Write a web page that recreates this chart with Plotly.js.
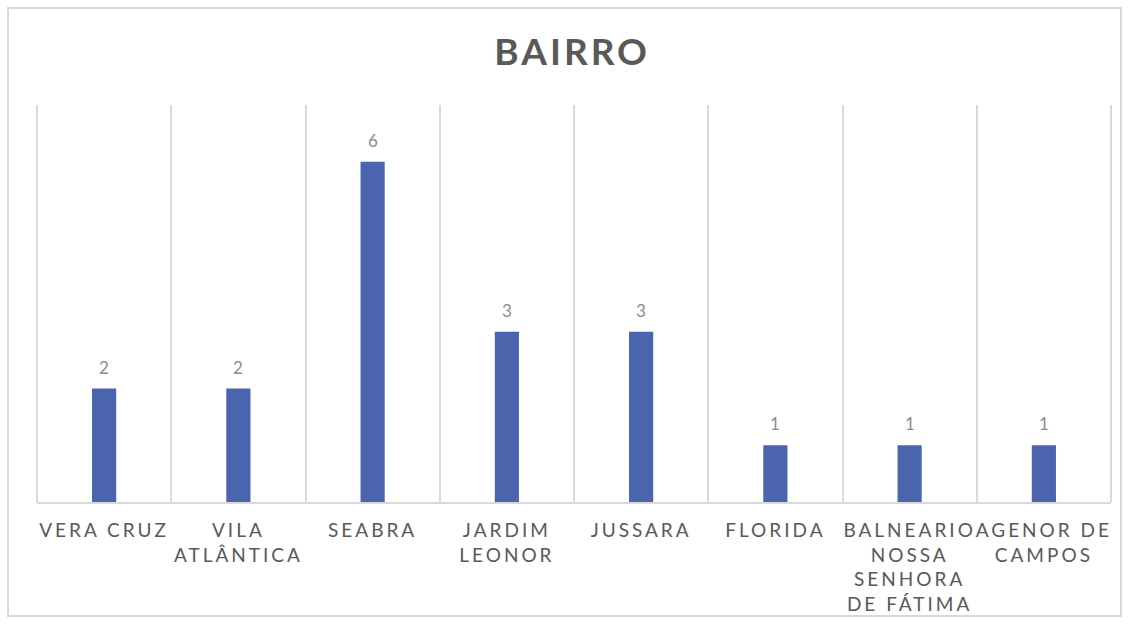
<!DOCTYPE html>
<html>
<head>
<meta charset="utf-8">
<script src="https://cdn.plot.ly/plotly-3.0.1.min.js"></script>
<style>
html, body { margin: 0; padding: 0; background: #fff; }
#frame { position: absolute; left: 7px; top: 7px; width: 1111px; height: 606px; border: 2px solid #d9d9d9; box-sizing: content-box; }
#chart { position: absolute; left: 0; top: 0; width: 1133px; height: 626px; }
.xtick text, .xtick tspan { letter-spacing: 3px; }
.gtitle, .gtitle tspan { letter-spacing: 3px; }
</style>
</head>
<body>
<div id="frame"></div>
<div id="chart"></div>
<script>
const categories = ["Vera Cruz", "Vila Atlântica", "Seabra", "Jardim Leonor", "Jussara", "Florida", "Balneario Nossa Senhora de Fátima", "Agenor de Campos"];
const tickLabels = ["VERA CRUZ", "VILA<br>ATLÂNTICA", "SEABRA", "JARDIM<br>LEONOR", "JUSSARA", "FLORIDA", "BALNEARIO<br>NOSSA<br>SENHORA<br>DE FÁTIMA", "AGENOR DE<br>CAMPOS"];
const values = [2, 2, 6, 3, 3, 1, 1, 1];

const trace = {
  type: 'bar',
  x: categories,
  y: values,
  marker: { color: '#4a65ae' },
  width: 0.18,
  hoverinfo: 'x+y'
};

const labelAnnotations = categories.map((c, i) => ({
  x: c, y: values[i], xref: 'x', yref: 'y',
  text: String(values[i]),
  showarrow: false,
  yanchor: 'bottom',
  yshift: 9,
  font: { family: 'Lato, "Open Sans", sans-serif', size: 17, color: '#8c8c8c' }
}));

const layout = {
  width: 1133,
  height: 626,
  paper_bgcolor: 'rgba(0,0,0,0)',
  plot_bgcolor: 'rgba(0,0,0,0)',
  margin: { l: 37, r: 22, t: 105, b: 124 },
  title: {
    text: '<b>BAIRRO</b>',
    font: { family: 'Lato, "Open Sans", sans-serif', size: 37, color: '#595959' },
    x: 0.505, xanchor: 'center',
    y: 1 - 52 / 626, yanchor: 'middle', yref: 'container'
  },
  xaxis: {
    type: 'category',
    tickmode: 'array',
    tickvals: categories,
    ticktext: tickLabels,
    tickson: 'boundaries',
    ticks: '',
    ticklabelstandoff: 10,
    showgrid: true,
    gridcolor: '#d9d9d9',
    gridwidth: 2,
    showline: true,
    linecolor: '#d9d9d9',
    linewidth: 2,
    tickangle: 0,
    tickfont: { family: 'Lato, "Open Sans", sans-serif', size: 19, color: '#595959' },
    range: [-0.5, 7.5],
    fixedrange: true
  },
  yaxis: {
    range: [0, 7],
    showgrid: false,
    showticklabels: false,
    zeroline: false,
    showline: false,
    ticks: '',
    fixedrange: true
  },
  shapes: [
    { type: 'line', xref: 'paper', yref: 'paper', x0: 0, x1: 0, y0: 0, y1: 1, line: { color: '#d9d9d9', width: 2 }, layer: 'below' },
    { type: 'line', xref: 'paper', yref: 'paper', x0: 1, x1: 1, y0: 0, y1: 1, line: { color: '#d9d9d9', width: 2 }, layer: 'below' }
  ],
  annotations: labelAnnotations,
  showlegend: false
};

Plotly.newPlot('chart', [trace], layout, { displayModeBar: false, staticPlot: true });
</script>
</body>
</html>
